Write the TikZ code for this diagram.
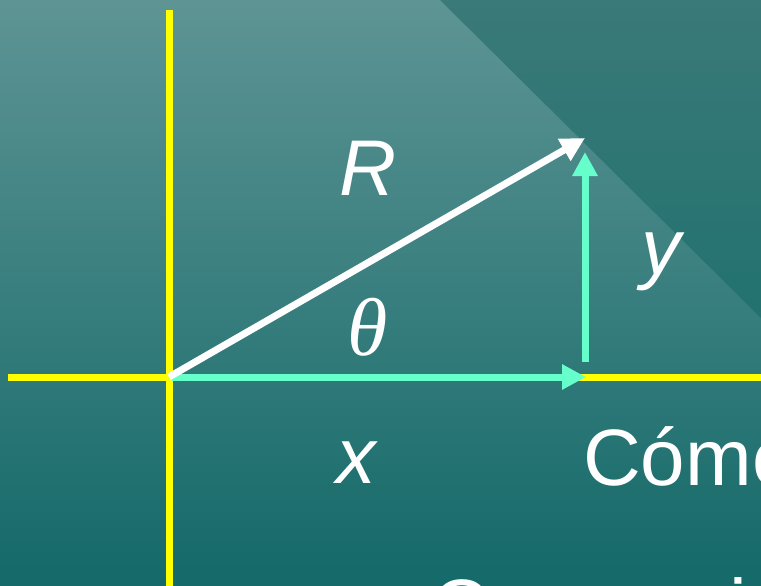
\documentclass[tikz,border=0pt]{standalone}
\usepackage{fontspec}
\setmainfont{Liberation Sans}
\newfontfamily\thetafont{Liberation Serif}
\usetikzlibrary{arrows.meta}
\definecolor{bgtop}{RGB}{94,148,148}
\definecolor{bgbot}{RGB}{20,105,105}
\definecolor{dktop}{RGB}{58,122,120}
\definecolor{dkbot}{RGB}{34,114,112}
\definecolor{axisyellow}{RGB}{255,255,0}
\definecolor{aqua}{RGB}{102,255,204}
\tikzset{
  axisline/.style={draw=axisyellow,line width=7pt},
  vec/.style={line width=7pt,-{Triangle[length=24pt,width=24pt]}},
  lbl/.style={text=white,font=\fontsize{79}{90}\selectfont\itshape,inner sep=0pt,anchor=base},
  bigtext/.style={text=white,font=\fontsize{80}{96}\selectfont,inner sep=0pt,anchor=base west}
}
\begin{document}
\begin{tikzpicture}[x=1pt,y=-1pt]
\useasboundingbox (0,0) rectangle (761,586);
\clip (0,0) rectangle (761,586);
\shade[top color=bgtop,bottom color=bgbot] (0,0) rectangle (761,586);
\shade[top color=dktop,bottom color=dkbot] (440,0) -- (761,0) -- (761,318) -- cycle;
% axes
\coordinate (vtop) at (169,10);
\coordinate (vbot) at (169,586);
\coordinate (hleft) at (8,377);
\coordinate (hright) at (761,377);
\draw[axisline] (vtop) -- (vbot);
\draw[axisline] (hleft) -- (hright);
% vectors
\coordinate (O) at (169,377);
\coordinate (Ox) at (172,377);
\coordinate (Rtip) at (585,138);
\coordinate (Xtip) at (586,377);
\coordinate (Ybase) at (585,362);
\coordinate (Ytip) at (585,152);
\draw[vec,draw=aqua,fill=aqua] (Ox) -- (Xtip);
\draw[vec,draw=white,fill=white] (O) -- (Rtip);
\draw[vec,draw=aqua,fill=aqua,line cap=butt] (Ybase) -- (Ytip);
% labels
\node[lbl] (lR) at (368,195) {R};
\node[text=white,font=\fontsize{82}{90}\selectfont\thetafont\itshape,inner sep=0pt,anchor=base] (lth) at (368,355) {θ};
\node[lbl] (lx) at (356,483) {x};
\node[lbl] (ly) at (661,274) {y};
\node[bigtext] (como) at (583,485) {Cómo};
\node[bigtext] (conv) at (431,635) {Conversi};
\end{tikzpicture}
\end{document}
